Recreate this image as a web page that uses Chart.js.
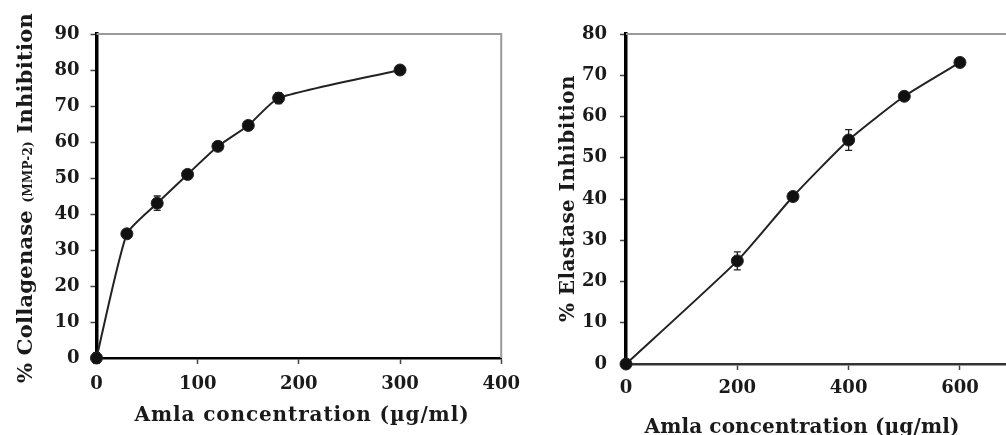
<!DOCTYPE html>
<html>
<head>
<meta charset="utf-8">
<script src="https://cdn.jsdelivr.net/npm/chart.js@4.4.1/dist/chart.umd.min.js"></script>
<style>
  html, body { margin: 0; padding: 0; background: #fff; }
  body { width: 1006px; height: 435px; overflow: hidden; position: relative; }
  #wrapL { position: absolute; left: 0; top: 0; width: 530px; height: 435px; }
  #wrapR { position: absolute; left: 530px; top: 0; width: 500px; height: 435px; }
</style>
</head>
<body>
<div id="wrapL"><canvas id="left" width="530" height="435"></canvas></div>
<div id="wrapR"><canvas id="right" width="500" height="435"></canvas></div>
<script>
// ---- Data ----
const collagenaseConc = [0, 30, 60, 90, 120, 150, 180, 300];
const collagenaseInhib = [0, 34.5, 43, 51, 58.8, 64.6, 72.2, 80];
const collagenaseErr = [1.5, 1, 2, 1, 1, 1, 1.5, 0.8];

const elastaseConc = [0, 200, 300, 400, 500, 600];
const elastaseInhib = [0, 25, 40.6, 54.3, 64.9, 73.1];
const elastaseErr = [0.5, 2.2, 0.8, 2.5, 0.8, 0.5];

const leftXTicks = [0, 100, 200, 300, 400];
const leftYTicks = [0, 10, 20, 30, 40, 50, 60, 70, 80, 90];
const rightXTicks = [0, 200, 400, 600];
const rightYTicks = [0, 10, 20, 30, 40, 50, 60, 70, 80];

const xTitleText = 'Amla concentration (µg/ml)';
const leftYTitleParts = ['% Collagenase ', '(MMP-2)', ' Inhibition'];
const rightYTitleText = '% Elastase Inhibition';

// ---- Styles ----
const FONT = 'DejaVu Serif';
const INK = '#1a1a1a';

function pts(xs, ys) { return xs.map((x, i) => ({ x: x, y: ys[i] })); }

const errorBars = {
  id: 'errorBars',
  beforeDatasetsDraw(chart) {
    const ctx = chart.ctx;
    const xs = chart.scales.x, ys = chart.scales.y;
    chart.data.datasets.forEach(ds => {
      if (!ds.errors) return;
      ctx.save();
      ctx.strokeStyle = '#222';
      ctx.lineWidth = 1.3;
      ds.data.forEach((p, i) => {
        const e = ds.errors[i];
        const px = xs.getPixelForValue(p.x);
        const y1 = ys.getPixelForValue(p.y - e), y2 = ys.getPixelForValue(p.y + e);
        ctx.beginPath();
        ctx.moveTo(px, y1); ctx.lineTo(px, y2);
        ctx.moveTo(px - 3.5, y1); ctx.lineTo(px + 3.5, y1);
        ctx.moveTo(px - 3.5, y2); ctx.lineTo(px + 3.5, y2);
        ctx.stroke();
      });
      ctx.restore();
    });
  }
};

const frame = {
  id: 'frame',
  beforeDatasetsDraw(chart) {
    const { ctx, chartArea: a } = chart;
    ctx.save();
    ctx.strokeStyle = '#9a9a9a';
    ctx.lineWidth = 2;
    ctx.beginPath();
    ctx.moveTo(a.left, a.top); ctx.lineTo(a.right, a.top); ctx.lineTo(a.right, a.bottom);
    ctx.stroke();
    ctx.restore();
  }
};

function spacedParts(ctx, parts, target) {
  let natural = 0, n = 0;
  parts.forEach(p => { ctx.font = 'bold ' + p.size + 'px "' + FONT + '"'; ctx.letterSpacing = '0px'; natural += ctx.measureText(p.text).width; n += p.text.length; });
  return (target - natural) / n;
}

function drawParts(ctx, parts, target, align) {
  const ls = spacedParts(ctx, parts, target);
  let x = align === 'center' ? -target / 2 : 0;
  parts.forEach(p => {
    ctx.font = 'bold ' + p.size + 'px "' + FONT + '"';
    ctx.letterSpacing = ls + 'px';
    ctx.fillText(p.text, x, 0);
    x += ctx.measureText(p.text).width;
  });
  ctx.letterSpacing = '0px';
}

const titles = {
  id: 'titles',
  afterDraw(chart, args, o) {
    const ctx = chart.ctx;
    ctx.save();
    ctx.fillStyle = INK;
    ctx.textBaseline = 'alphabetic';
    ctx.textAlign = 'left';
    ctx.save();
    ctx.translate(o.xCenter, o.xBaseline);
    drawParts(ctx, [{ text: o.xText, size: o.xSize }], o.xWidth, 'center');
    ctx.restore();
    ctx.save();
    ctx.translate(o.yBaseline, o.yStart);
    ctx.rotate(-Math.PI / 2);
    drawParts(ctx, o.yParts, o.yLength, 'left');
    ctx.restore();
    ctx.restore();
  }
};

function makeChart(id, conc, inhib, errs, xMax, yMax, xTicks, yTicks, pad, yW, xH, xPad, yPad, titleOpts, xBorderColor) {
  return new Chart(document.getElementById(id), {
    type: 'line',
    data: {
      datasets: [{
        data: pts(conc, inhib),
        errors: errs,
        borderColor: '#222',
        borderWidth: 2,
        backgroundColor: '#111',
        pointBackgroundColor: '#111',
        pointBorderColor: '#222',
        pointBorderWidth: 1,
        pointRadius: 6,
        tension: 0.18,
        clip: false
      }]
    },
    options: {
      responsive: false,
      animation: false,
      events: [],
      layout: { padding: pad },
      plugins: { legend: { display: false }, tooltip: { enabled: false }, titles: titleOpts },
      scales: {
        x: {
          type: 'linear', min: 0, max: xMax,
          afterBuildTicks: s => { s.ticks = xTicks.map(v => ({ value: v })); },
          afterFit: s => { s.height = xH; },
          border: { display: true, color: xBorderColor, width: 2.5 },
          grid: { drawOnChartArea: false, drawTicks: true, tickLength: 6, tickColor: '#444', tickWidth: 1.5 },
          ticks: { color: INK, padding: xPad, maxRotation: 0, font: { family: FONT, weight: 'bold', size: 18 } }
        },
        y: {
          type: 'linear', min: 0, max: yMax,
          afterBuildTicks: s => { s.ticks = yTicks.map(v => ({ value: v })); },
          afterFit: s => { s.width = yW; },
          border: { display: true, color: '#000', width: 3.5 },
          grid: { drawOnChartArea: false, drawTicks: true, tickLength: 6, tickColor: '#444', tickWidth: 1.5 },
          ticks: { color: INK, padding: yPad, font: { family: FONT, weight: 'bold', size: 18 } }
        }
      }
    },
    plugins: [frame, errorBars, titles]
  });
}

makeChart('left', collagenaseConc, collagenaseInhib, collagenaseErr, 400, 90, leftXTicks, leftYTicks,
  { left: 0, top: 34, right: 23, bottom: 0 }, 96.5, 77, 10, 11,
  { xText: xTitleText, xSize: 20, xCenter: 302, xBaseline: 421, xWidth: 335,
    yBaseline: 32, yStart: 383, yLength: 370,
    yParts: [{ text: leftYTitleParts[0], size: 21 }, { text: leftYTitleParts[1], size: 12 }, { text: leftYTitleParts[2], size: 21 }] },
  '#000');

makeChart('right', elastaseConc, elastaseInhib, elastaseErr, 700, 80, rightXTicks, rightYTicks,
  { left: 0, top: 34, right: 14.4, bottom: 0 }, 96, 71, 8, 13,
  { xText: xTitleText, xSize: 20, xCenter: 272, xBaseline: 433, xWidth: 315,
    yBaseline: 44, yStart: 322, yLength: 247,
    yParts: [{ text: rightYTitleText, size: 20 }] },
  '#333');
</script>
</body>
</html>
